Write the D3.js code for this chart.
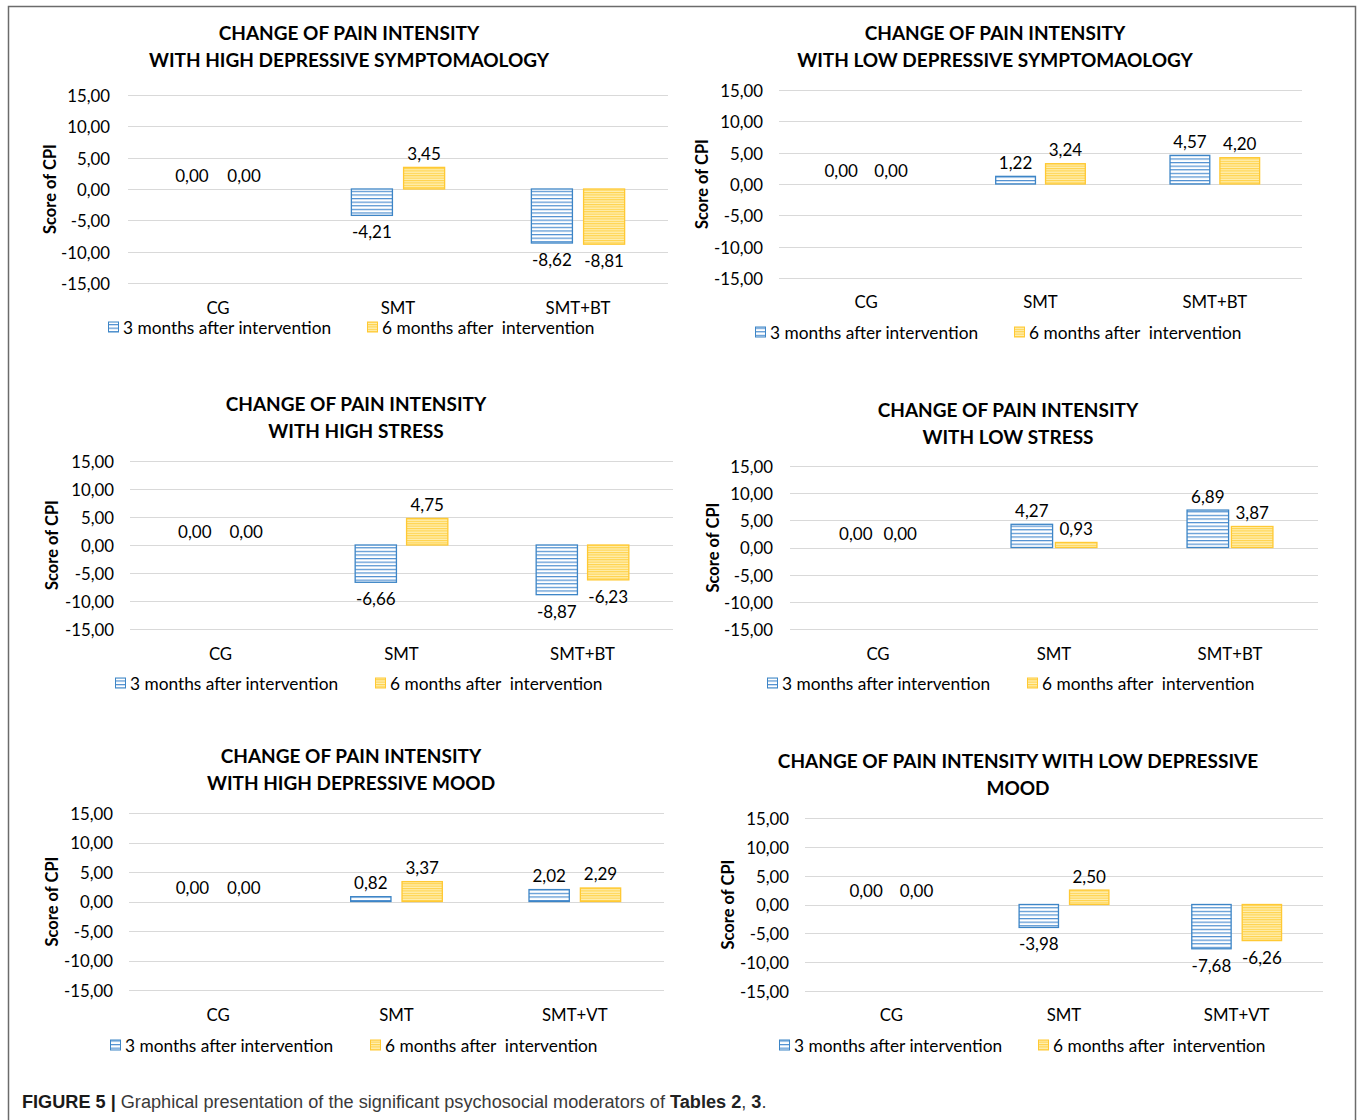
<!DOCTYPE html>
<html><head><meta charset="utf-8">
<script src="https://cdn.jsdelivr.net/npm/d3@7"></script>
<style>
html,body{margin:0;padding:0;background:#fff;}
svg{display:block;}
text{white-space:pre;}
</style></head>
<body>
<svg id="c" width="1357" height="1120"></svg>
<script>
// ---------- data ----------
const titles = [
  ["CHANGE OF PAIN INTENSITY", "WITH HIGH DEPRESSIVE SYMPTOMAOLOGY"],
  ["CHANGE OF PAIN INTENSITY", "WITH LOW DEPRESSIVE SYMPTOMAOLOGY"],
  ["CHANGE OF PAIN INTENSITY", "WITH HIGH STRESS"],
  ["CHANGE OF PAIN INTENSITY", "WITH LOW STRESS"],
  ["CHANGE OF PAIN INTENSITY", "WITH HIGH DEPRESSIVE MOOD"],
  ["CHANGE OF PAIN INTENSITY WITH LOW DEPRESSIVE", "MOOD"]
];
const categoriesBT = ["CG", "SMT", "SMT+BT"];
const categoriesVT = ["CG", "SMT", "SMT+VT"];
const chartCategories = [categoriesBT, categoriesBT, categoriesBT, categoriesBT, categoriesVT, categoriesVT];
const seriesNames = ["3 months after intervention", "6 months after  intervention"];
const months3 = [
  [0.00, -4.21, -8.62],
  [0.00, 1.22, 4.57],
  [0.00, -6.66, -8.87],
  [0.00, 4.27, 6.89],
  [0.00, 0.82, 2.02],
  [0.00, -3.98, -7.68]
];
const months6 = [
  [0.00, 3.45, -8.81],
  [0.00, 3.24, 4.20],
  [0.00, 4.75, -6.23],
  [0.00, 0.93, 3.87],
  [0.00, 3.37, 2.29],
  [0.00, 2.50, -6.26]
];
const yTicks = [-15, -10, -5, 0, 5, 10, 15];
const yTitle = "Score of CPI";
const caption = ["FIGURE 5 | ", "Graphical presentation of the significant psychosocial moderators of ", "Tables 2", ", ", "3", "."];

// ---------- layout ----------
const layout = [
  {gx0:128, gx1:668, yTop:95,  yBot:283, tx:349,  ty:33,  tickX:110, ytX:50,  catY:307,  legY:327,  leg1:108, leg2:367,  bw:0.228, gap:0.062},
  {gx0:779, gx1:1302,yTop:90,  yBot:278, tx:995,  ty:33,  tickX:763, ytX:702, catY:301,  legY:332,  leg1:755, leg2:1014, bw:0.228, gap:0.058},
  {gx0:130, gx1:673, yTop:461, yBot:629, tx:356,  ty:404, tickX:114, ytX:52,  catY:653,  legY:683,  leg1:115, leg2:375,  bw:0.228, gap:0.056},
  {gx0:790, gx1:1318,yTop:466, yBot:629, tx:1008, ty:410, tickX:773, ytX:713, catY:653,  legY:683,  leg1:767, leg2:1027, bw:0.236, gap:0.016},
  {gx0:129, gx1:664, yTop:813, yBot:990, tx:351,  ty:756, tickX:113, ytX:52,  catY:1014, legY:1045, leg1:110, leg2:370,  bw:0.226, gap:0.062},
  {gx0:805, gx1:1323,yTop:818, yBot:991, tx:1018, ty:761, tickX:789, ytX:728, catY:1014, legY:1045, leg1:779, leg2:1038, bw:0.228, gap:0.064}
];

const FONT = "Lato, 'Open Sans', sans-serif";
const locale = d3.formatLocale({decimal: ",", thousands: ".", grouping: [3], currency: ["", ""], minus: "-"});
const fmt = locale.format(".2f");

const svg = d3.select("#c");
svg.append("rect").attr("width", 1357).attr("height", 1120).attr("fill", "#fff");
// frame
svg.append("path").attr("d", "M8.5,1120 L8.5,6.5 L1355.5,6.5 L1355.5,1120")
  .attr("fill", "none").attr("stroke", "#6b6b6b").attr("stroke-width", 1.5);

const defs = svg.append("defs");
const pb = defs.append("pattern").attr("id", "pBlue").attr("patternUnits", "userSpaceOnUse")
  .attr("width", 8).attr("height", 3.6);
pb.append("rect").attr("width", 8).attr("height", 3.6).attr("fill", "#fff");
pb.append("rect").attr("y", 0).attr("width", 8).attr("height", 1.2).attr("fill", "#4e8fd0");
const py = defs.append("pattern").attr("id", "pYellow").attr("patternUnits", "userSpaceOnUse")
  .attr("width", 8).attr("height", 2.4);
py.append("rect").attr("width", 8).attr("height", 2.4).attr("fill", "#ffefb3");
py.append("rect").attr("y", 0).attr("width", 8).attr("height", 1.1).attr("fill", "#ffd24a");

const fills = ["url(#pBlue)", "url(#pYellow)"];
const strokes = ["#3d85c6", "#ffc934"];

layout.forEach((L, i) => {
  const g = svg.append("g");
  const cats = chartCategories[i];
  const x = d3.scaleBand().domain(cats).range([L.gx0, L.gx1]);
  const y = d3.scaleLinear().domain([-15, 15]).range([L.yBot, L.yTop]);
  const bw = x.bandwidth() * L.bw;
  const gap = x.bandwidth() * L.gap;

  // title
  titles[i].forEach((t, k) => {
    g.append("text").attr("x", L.tx).attr("y", L.ty + k * 27 + 7)
      .attr("text-anchor", "middle").attr("font-family", FONT).attr("font-weight", "bold")
      .attr("font-size", 19).attr("fill", "#000").text(t);
  });

  // grid
  g.selectAll("line.grid").data(yTicks).join("line")
    .attr("x1", L.gx0).attr("x2", L.gx1)
    .attr("y1", d => Math.round(y(d)) + 0.5).attr("y2", d => Math.round(y(d)) + 0.5)
    .attr("stroke", "#d9d9d9").attr("stroke-width", 1);

  // y axis labels
  const ax = d3.axisLeft(y).tickValues(yTicks).tickFormat(fmt).tickSize(0).tickPadding(0);
  const axG = g.append("g").attr("transform", `translate(${L.tickX},1)`).call(ax);
  axG.select(".domain").remove();
  axG.selectAll("text").attr("font-family", FONT).attr("font-size", 16.8).attr("fill", "#000");

  // y title
  g.append("text").attr("transform", `translate(${L.ytX + 6},${(L.yTop + L.yBot) / 2}) rotate(-90)`)
    .attr("text-anchor", "middle").attr("font-family", FONT).attr("font-weight", "bold")
    .attr("font-size", 16.5).attr("fill", "#000").text(yTitle);

  // categories
  g.selectAll("text.cat").data(cats).join("text")
    .attr("x", d => x(d) + x.bandwidth() / 2).attr("y", L.catY + 7)
    .attr("text-anchor", "middle").attr("font-family", FONT).attr("font-size", 16.8).attr("fill", "#000")
    .text(d => d);

  // bars
  [months3[i], months6[i]].forEach((vals, s) => {
    const xo = d => x(cats[d]) + x.bandwidth() / 2 + (s === 0 ? -gap / 2 - bw : gap / 2);
    vals.forEach((v, j) => {
      if (v !== 0) {
        g.append("rect").attr("x", xo(j)).attr("width", bw)
          .attr("y", y(Math.max(0, v))).attr("height", Math.abs(y(v) - y(0)))
          .attr("fill", fills[s]).attr("stroke", strokes[s]).attr("stroke-width", 1.3);
      }
      const ly = v >= 0 ? y(v) - 14 : y(v) + 16.5;
      g.append("text").attr("x", xo(j) + bw / 2).attr("y", ly + 6.5)
        .attr("text-anchor", "middle").attr("font-family", FONT).attr("font-size", 17).attr("fill", "#000")
        .text(fmt(v));
    });
  });

  // legend
  [L.leg1, L.leg2].forEach((lx, s) => {
    g.append("rect").attr("x", lx + 0.5).attr("y", L.legY - 5).attr("width", 10).attr("height", 10)
      .attr("fill", fills[s]).attr("stroke", strokes[s]).attr("stroke-width", 1);
    g.append("text").attr("x", lx + 15).attr("y", L.legY + 6.5)
      .attr("font-family", FONT).attr("font-size", 17.3).attr("fill", "#000").text(seriesNames[s]);
  });
});

// caption
const cap = svg.append("text").attr("x", 0).attr("y", 0)
  .attr("transform", "translate(22,1108) scale(0.955,1)")
  .attr("font-family", "'Liberation Sans Narrow', 'Liberation Sans', Arial, sans-serif")
  .attr("font-size", 19).attr("fill", "#3a3a3a");
caption.forEach((t, k) => {
  cap.append("tspan").attr("font-weight", (k === 0 || k === 2 || k === 4) ? "bold" : "normal")
    .attr("fill", k === 0 ? "#1a1a1a" : (k === 2 || k === 4 ? "#222" : "#3a3a3a")).text(t);
});
</script>
</body></html>
